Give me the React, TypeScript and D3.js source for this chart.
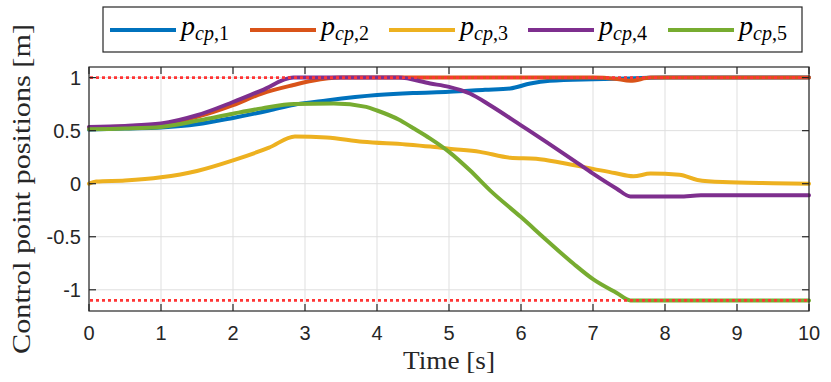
import React from 'react'
import * as d3 from 'd3'

// time samples per series (s) and positions (m)
const t1 = [0, 0.5, 1, 1.5, 2, 2.5, 2.85, 3.3, 4, 4.5, 5, 5.5, 5.85, 6.13, 6.4, 7, 7.5, 8, 10]
const p1 = [0.51, 0.52, 0.53, 0.56, 0.62, 0.69, 0.745, 0.785, 0.835, 0.855, 0.866, 0.885, 0.898, 0.945, 0.97, 0.985, 0.992, 1.0, 1.0]

const t2 = [0, 0.5, 1, 1.5, 2, 2.4, 2.84, 3.1, 3.5, 7, 7.3, 7.52, 7.8, 10]
const p2 = [0.53, 0.54, 0.56, 0.63, 0.74, 0.85, 0.93, 0.97, 1.0, 1.0, 0.99, 0.97, 1.0, 1.0]

const t3 = [0, 0.1, 0.5, 1, 1.5, 2, 2.5, 2.86, 3.3, 3.8, 4.4, 4.74, 5, 5.43, 5.85, 6.21, 6.58, 7, 7.3, 7.56, 7.8, 8.2, 8.45, 8.8, 9.5, 10]
const p3 = [0.0, 0.02, 0.03, 0.06, 0.12, 0.22, 0.34, 0.445, 0.435, 0.395, 0.37, 0.35, 0.33, 0.3, 0.245, 0.235, 0.195, 0.14, 0.1, 0.07, 0.095, 0.085, 0.035, 0.015, 0.005, 0.0]

const t4 = [0, 0.5, 1, 1.5, 2, 2.4, 2.84, 4.3, 4.74, 5, 5.29, 5.57, 6, 6.36, 6.73, 7, 7.33, 7.52, 8.2, 8.5, 10]
const p4 = [0.535, 0.545, 0.567, 0.645, 0.77, 0.88, 1.0, 1.0, 0.944, 0.913, 0.85, 0.74, 0.55, 0.39, 0.22, 0.095, -0.047, -0.12, -0.12, -0.11, -0.11]

const t5 = [0, 0.5, 1, 1.54, 2, 2.4, 2.85, 3.4, 3.85, 4.0, 4.3, 4.5, 4.74, 5, 5.29, 5.57, 6, 6.36, 6.73, 7, 7.33, 7.52, 10]
const p5 = [0.513, 0.52, 0.535, 0.598, 0.66, 0.71, 0.752, 0.756, 0.724, 0.69, 0.605, 0.525, 0.425, 0.3, 0.126, -0.063, -0.315, -0.535, -0.755, -0.9, -1.03, -1.1, -1.1]

const seriesNames = ['1', '2', '3', '4', '5']
const seriesColors = ['#0072BD', '#D95319', '#EDB120', '#7E2F8E', '#77AC30']
const seriesT = [t1, t2, t3, t4, t5]
const seriesP = [p1, p2, p3, p4, p5]

const limits = [1, -1.1]
const xTicks = [0, 1, 2, 3, 4, 5, 6, 7, 8, 9, 10]
const yTicks = [-1, -0.5, 0, 0.5, 1]

const W = 831
const H = 382
const m = { left: 89, right: 22, top: 67, bottom: 71 }
const axisColor = '#262626'
const serif = "'Liberation Serif', 'DejaVu Serif', 'Times New Roman', serif"
const sans = "'Liberation Sans', Arial, Helvetica, sans-serif"

export default function App() {
  const x = d3.scaleLinear().domain([0, 10]).range([m.left, W - m.right])
  const y = d3.scaleLinear().domain([-1.2, 1.1]).range([H - m.bottom, m.top])
  const line = d3.line<[number, number]>()
    .x(d => x(d[0]))
    .y(d => y(d[1]))
    .curve(d3.curveMonotoneX)

  const x0 = x(0), x1 = x(10), yTop = y(1.1), yBot = y(-1.2)
  const tickLen = 7

  // legend layout
  const legLines = [110, 250, 389, 528, 668]
  const legY = 30

  return (
    <div style={{ position: 'absolute', left: 0, top: 0 }}>
      <svg width={W} height={H} style={{ display: 'block', background: '#fff' }}>
        {/* grid */}
        <g stroke="#dfdfdf" strokeWidth={1}>
          {xTicks.map(t => <line key={'gx' + t} x1={x(t)} x2={x(t)} y1={yTop} y2={yBot} />)}
          {yTicks.map(t => <line key={'gy' + t} x1={x0} x2={x1} y1={y(t)} y2={y(t)} />)}
        </g>

        {/* data */}
        <g fill="none" strokeWidth={4} strokeLinejoin="round" strokeLinecap="round">
          {seriesT.map((ts, i) => (
            <path key={i} d={line(ts.map((t, j) => [t, seriesP[i][j]] as [number, number])) || ''} stroke={seriesColors[i]} />
          ))}
        </g>

        {/* limits */}
        <g stroke="#ff3535" strokeWidth={2.6} strokeDasharray="3 3">
          {limits.map(v => <line key={v} x1={x0 + 1} x2={x1} y1={y(v)} y2={y(v)} />)}
        </g>

        {/* axes box and ticks */}
        <g stroke={axisColor} strokeWidth={1.2} fill="none">
          <rect x={x0} y={yTop} width={x1 - x0} height={yBot - yTop} />
          {xTicks.map(t => (
            <g key={'tx' + t}>
              <line x1={x(t)} x2={x(t)} y1={yBot} y2={yBot - tickLen} />
              <line x1={x(t)} x2={x(t)} y1={yTop} y2={yTop + tickLen} />
            </g>
          ))}
          {yTicks.map(t => (
            <g key={'ty' + t}>
              <line x1={x0} x2={x0 + tickLen} y1={y(t)} y2={y(t)} />
              <line x1={x1} x2={x1 - tickLen} y1={y(t)} y2={y(t)} />
            </g>
          ))}
        </g>

        {/* tick labels */}
        <g fill={axisColor} style={{ fontFamily: sans, fontSize: 20 }}>
          {xTicks.map(t => (
            <text key={'lx' + t} x={x(t)} y={yBot + 29} textAnchor="middle">{t}</text>
          ))}
          {yTicks.map(t => (
            <text key={'ly' + t} x={x0 - 8} y={y(t) + 7} textAnchor="end">{t}</text>
          ))}
        </g>

        {/* axis titles */}
        <g fill={axisColor} style={{ fontFamily: serif, fontSize: 25 }}>
          <text x={449} y={369} textAnchor="middle" textLength={92} lengthAdjust="spacingAndGlyphs">Time [s]</text>
          <text transform={`translate(30,${(yTop + yBot) / 2}) rotate(-90)`} textAnchor="middle"
            textLength={330} lengthAdjust="spacingAndGlyphs">Control point positions [m]</text>
        </g>

        {/* legend */}
        <g>
          <rect x={103} y={7} width={699} height={45} fill="#fff" stroke={axisColor} strokeWidth={1.2} />
          {seriesNames.map((n, i) => (
            <g key={'leg' + n}>
              <line x1={legLines[i]} x2={legLines[i] + 66} y1={legY} y2={legY} stroke={seriesColors[i]} strokeWidth={4} />
              <text x={legLines[i] + 71} y={35} fill="#000" style={{ fontFamily: serif }}>
                <tspan style={{ fontSize: 28, fontStyle: 'italic' }}>p</tspan>
                <tspan dy={5} style={{ fontSize: 20, fontStyle: 'italic' }}>cp</tspan>
                <tspan style={{ fontSize: 20 }}>,{n}</tspan>
              </text>
            </g>
          ))}
        </g>
      </svg>
    </div>
  )
}
